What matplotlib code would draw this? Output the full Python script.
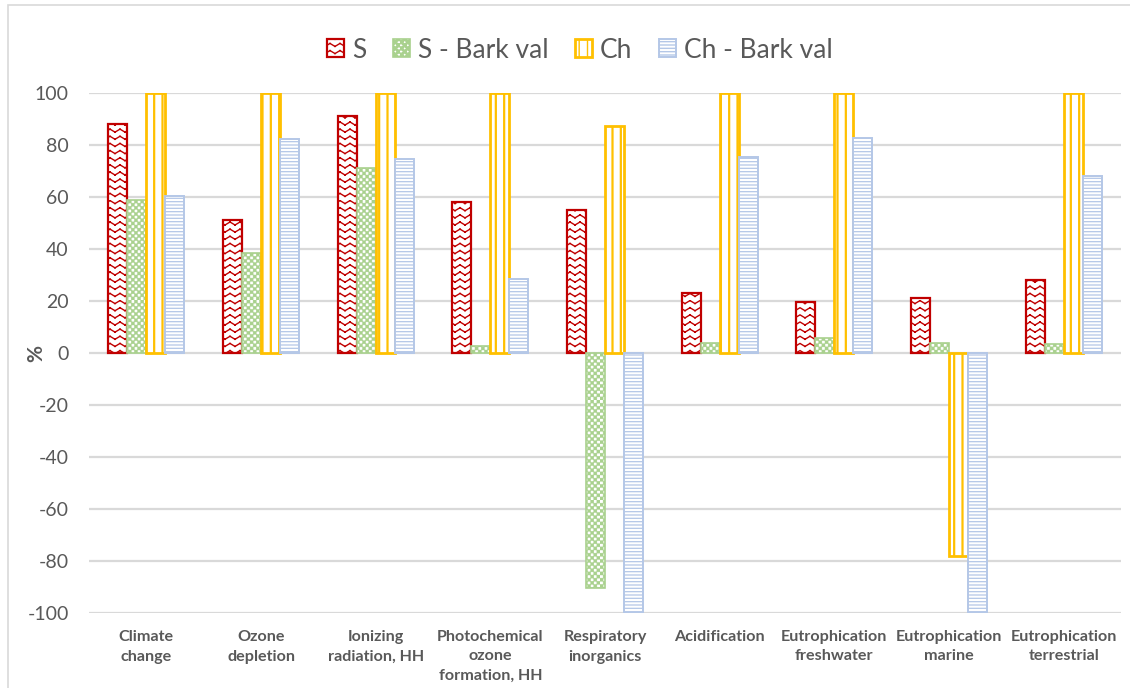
import warnings
import numpy as np
import matplotlib
matplotlib.use("Agg")
import matplotlib.pyplot as plt
import matplotlib.hatch as mhatch
from matplotlib.path import Path
from matplotlib.patches import Rectangle

warnings.filterwarnings("ignore")

# ---------------- data ----------------
categories = ["Climate\nchange", "Ozone\ndepletion", "Ionizing\nradiation, HH",
              "Photochemical\nozone\nformation, HH", "Respiratory\ninorganics",
              "Acidification", "Eutrophication\nfreshwater", "Eutrophication\nmarine",
              "Eutrophication\nterrestrial"]
series_names = ["S", "S - Bark val", "Ch", "Ch - Bark val"]
s_vals = [88, 51, 91, 58, 55, 23, 19.5, 21, 28]
s_bark_vals = [59, 38.5, 71, 2.7, -90.5, 3.8, 5.8, 3.8, 3.5]
ch_vals = [100, 100, 100, 100, 87.5, 100, 100, -78, 100]
ch_bark_vals = [60.5, 82.5, 74.5, 28.5, -100, 75.5, 82.7, -100, 68]
yticks = [-100, -80, -60, -40, -20, 0, 20, 40, 60, 80, 100]


# ---------------- custom hatch patterns ----------------
class WaveHatch(mhatch.HatchPatternBase):
    """chevron wave, triggered by 'w'"""
    def __init__(self, hatch, density):
        n = hatch.count('w')
        self.rows = int(n * 14)
        self.periods = 10
        self.num_vertices = self.rows * self.periods * 2 * 2

    def set_vertices_and_codes(self, vertices, codes):
        amp = 0.03
        k = 0
        for r in range(self.rows):
            y = (r + 0.5) / self.rows
            xs = np.linspace(0, 1, self.periods * 2 + 1)
            ys = np.array([y + amp if i % 2 == 0 else y for i in range(len(xs))])
            for i in range(len(xs) - 1):
                vertices[k] = (xs[i], ys[i])
                codes[k] = Path.MOVETO
                vertices[k + 1] = (xs[i + 1], ys[i + 1])
                codes[k + 1] = Path.LINETO
                k += 2


class CheckerHatch(mhatch.HatchPatternBase):
    """checkerboard, triggered by 'k'"""
    def __init__(self, hatch, density):
        n = hatch.count('k')
        self.cells = int(n * 32)
        self.nsq = (self.cells * self.cells) // 2 if self.cells else 0
        self.num_vertices = self.nsq * 5

    def set_vertices_and_codes(self, vertices, codes):
        c = self.cells
        d = 1.0 / c
        k = 0
        for i in range(c):
            for j in range(c):
                if (i + j) % 2 == 0:
                    x0, y0 = i * d, j * d
                    vertices[k:k + 5] = [(x0, y0), (x0 + d, y0), (x0 + d, y0 + d),
                                         (x0, y0 + d), (x0, y0)]
                    codes[k] = Path.MOVETO
                    codes[k + 1:k + 4] = Path.LINETO
                    codes[k + 4] = Path.CLOSEPOLY
                    k += 5


mhatch._hatch_types.append(WaveHatch)
mhatch._hatch_types.append(CheckerHatch)

# ---------------- style ----------------
plt.rcParams['font.family'] = ['Lato', 'DejaVu Sans']
text_color = '#595959'
grid_color = '#d9d9d9'

styles = [
    dict(edgecolor='#c00000', hatch='w', lw=1.6, hlw=1.0),
    dict(edgecolor='#a9d18e', hatch='k', lw=1.2, hlw=0.3),
    dict(edgecolor='#ffc000', hatch='||', lw=2.0, hlw=1.6),
    dict(edgecolor='#b4c7e7', hatch='-----', lw=1.4, hlw=0.9),
]
all_vals = [s_vals, s_bark_vals, ch_vals, ch_bark_vals]

fig = plt.figure(figsize=(11.30, 6.88), dpi=100)
ax = fig.add_axes([89 / 1130, 1 - 613 / 688, (1121 - 89) / 1130, (613 - 93) / 688])

x = np.arange(len(categories))
w = 0.166
offsets = [-1.5, -0.5, 0.5, 1.5]
handles = []
for vals, st, off, name in zip(all_vals, styles, offsets, series_names):
    with plt.rc_context({'hatch.linewidth': st['hlw']}):
        bars = ax.bar(x + off * w, vals, width=w, facecolor='white',
                      edgecolor=st['edgecolor'], hatch=st['hatch'],
                      linewidth=st['lw'], label=name, zorder=3)
        for b in bars:
            if hasattr(b, 'set_hatch_linewidth'):
                b.set_hatch_linewidth(st['hlw'])
    handles.append(bars)

ax.set_xlim(-0.5, len(categories) - 0.5)
ax.set_ylim(-100, 100)
ax.set_yticks(yticks)
ax.set_yticklabels([str(v) for v in yticks])
ax.yaxis.grid(True, color=grid_color, lw=1.6, zorder=0)
ax.set_axisbelow(True)
for sp in ax.spines.values():
    sp.set_visible(False)
ax.tick_params(axis='y', length=0, pad=14.5, labelsize=14, labelcolor=text_color)
ax.tick_params(axis='x', length=0)
ax.set_xticks(x)
ax.set_xticklabels([])
for xi, lab in zip(x, categories):
    ax.annotate(lab, xy=(xi, 0), xycoords=('data', 'axes fraction'),
                xytext=(0, -17), textcoords='offset pixels', ha='center', va='top',
                fontsize=11.6, fontweight='bold', color=text_color, linespacing=1.5)

fig.text(36 / 1130, 1 - 353 / 688, '%', rotation=90, ha='center', va='center',
         fontsize=15, fontweight='bold', color=text_color)

leg = fig.legend(handles=handles, labels=series_names, loc='center',
                 bbox_to_anchor=(580 / 1130, 1 - 50 / 688), ncol=4, frameon=False,
                 fontsize=19, handlelength=0.65, handleheight=0.65, handletextpad=0.3,
                 columnspacing=1.0, labelcolor=text_color)

fig.patches.append(Rectangle((8 / 1130, -0.02), 1.1, 1 - 5 / 688 + 0.02,
                             transform=fig.transFigure, fill=False,
                             edgecolor=grid_color, lw=1.2))

fig.savefig('out.png', dpi=100)
